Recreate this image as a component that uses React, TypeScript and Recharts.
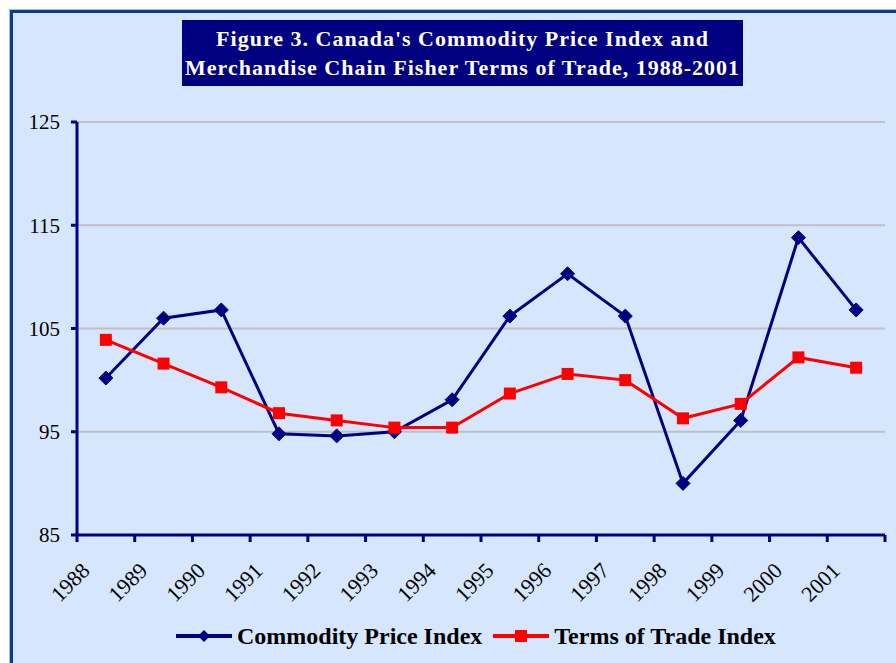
import React from 'react';
import { LineChart, Line, XAxis, YAxis, CartesianGrid } from 'recharts';

const years = ['1988', '1989', '1990', '1991', '1992', '1993', '1994', '1995', '1996', '1997', '1998', '1999', '2000', '2001'];
const commodity = [100.2, 106.0, 106.8, 94.8, 94.6, 95.0, 98.1, 106.2, 110.3, 106.2, 90.0, 96.1, 113.8, 106.8];
const termsOfTrade = [103.9, 101.6, 99.3, 96.8, 96.1, 95.4, 95.4, 98.7, 100.6, 100.0, 96.3, 97.7, 102.2, 101.2];
const yTicks = [85, 95, 105, 115, 125];
const seriesNames = ['Commodity Price Index', 'Terms of Trade Index'];
const titleLines = ["Figure 3. Canada's Commodity Price Index and", 'Merchandise Chain Fisher Terms of Trade, 1988-2001'];

const data = years.map((year, i) => ({ year, x: i + 0.5, commodity: commodity[i], tot: termsOfTrade[i] }));
const xTicks = years.map((_, i) => i).concat([years.length]);

const NAVY = '#000080';
const RED = '#ff0000';
const FONT = '"Liberation Serif", "Times New Roman", serif';

const Diamond = (props: any) => {
  const { cx, cy } = props;
  if (cx == null || cy == null) return null;
  const r = 7;
  return <path d={`M${cx},${cy - r}L${cx + r},${cy}L${cx},${cy + r}L${cx - r},${cy}Z`} fill={NAVY} stroke={NAVY} strokeWidth={1} />;
};

const Square = (props: any) => {
  const { cx, cy } = props;
  if (cx == null || cy == null) return null;
  const s = 6;
  return <rect x={cx - s} y={cy - s} width={2 * s} height={2 * s} fill={RED} />;
};

const XTick = (props: any) => {
  const { x, y, payload } = props;
  const label = years[payload.value];
  if (!label) return null;
  const tx = x + 14;
  const ty = y + 28;
  return (
    <text x={tx} y={ty} transform={`rotate(-45, ${tx}, ${ty})`} textAnchor="end" fontFamily={FONT} fontSize={22} fill="#000">
      {label}
    </text>
  );
};

export default function App() {
  return (
    <div style={{ position: 'fixed', left: 0, top: 0, width: 896, height: 663, overflow: 'hidden', background: '#ffffff' }}>
      <div
        style={{
          position: 'absolute',
          left: 10,
          top: 10,
          width: 1000,
          height: 800,
          border: '3px solid #0a3d8f',
          boxShadow: '0 0 0 1px #a9c0e6',
          background: '#d6e6fd',
        }}
      />
      <div
        style={{
          position: 'absolute',
          left: 182,
          top: 20,
          width: 561,
          height: 66,
          background: NAVY,
          color: '#fff',
          fontFamily: FONT,
          fontWeight: 'bold',
          fontSize: 22,
          letterSpacing: 1,
          lineHeight: '29px',
          textAlign: 'center',
          paddingTop: 4,
          boxSizing: 'border-box',
          whiteSpace: 'nowrap',
        }}
      >
        {titleLines.map((t) => (
          <div key={t}>{t}</div>
        ))}
      </div>
      <div style={{ position: 'absolute', left: 0, top: 0 }}>
        <LineChart width={896} height={663} data={data} margin={{ top: 122, right: 11, left: 0, bottom: 68 }}>
          <CartesianGrid vertical={false} stroke="#c0c0c0" strokeWidth={2} horizontalValues={[95, 105, 115, 125]} />
          <XAxis
            type="number"
            dataKey="x"
            domain={[0, years.length]}
            ticks={xTicks}
            interval={0}
            height={60}
            axisLine={{ stroke: NAVY, strokeWidth: 3 }}
            tickLine={{ stroke: NAVY, strokeWidth: 3 }}
            tickSize={7}
            tick={<XTick />}
          />
          <YAxis
            type="number"
            domain={[85, 125]}
            ticks={yTicks}
            width={77}
            axisLine={{ stroke: NAVY, strokeWidth: 3 }}
            tickLine={{ stroke: NAVY, strokeWidth: 3 }}
            tickSize={6}
            tickMargin={11}
            tick={{ fill: '#000', fontFamily: FONT, fontSize: 21 }}
          />
          <Line type="linear" dataKey="commodity" name={seriesNames[0]} stroke={NAVY} strokeWidth={3} dot={<Diamond />} activeDot={false} isAnimationActive={false} />
          <Line type="linear" dataKey="tot" name={seriesNames[1]} stroke={RED} strokeWidth={3} dot={<Square />} activeDot={false} isAnimationActive={false} />
        </LineChart>
      </div>
      <div style={{ position: 'absolute', left: 176, top: 622, display: 'flex', alignItems: 'center', fontFamily: FONT, fontWeight: 'bold', fontSize: 24, lineHeight: '28px', color: '#000', whiteSpace: 'nowrap' }}>
        <svg width={56} height={20} style={{ display: 'block' }}>
          <line x1={0} y1={10} x2={56} y2={10} stroke={NAVY} strokeWidth={4} />
          <path d="M28,4L34,10L28,16L22,10Z" fill={NAVY} />
        </svg>
        <span style={{ marginLeft: 5, marginRight: 11 }}>{seriesNames[0]}</span>
        <svg width={56} height={20} style={{ display: 'block' }}>
          <line x1={0} y1={10} x2={56} y2={10} stroke={RED} strokeWidth={4} />
          <rect x={22} y={4} width={12} height={12} fill={RED} />
        </svg>
        <span style={{ marginLeft: 5 }}>{seriesNames[1]}</span>
      </div>
    </div>
  );
}
